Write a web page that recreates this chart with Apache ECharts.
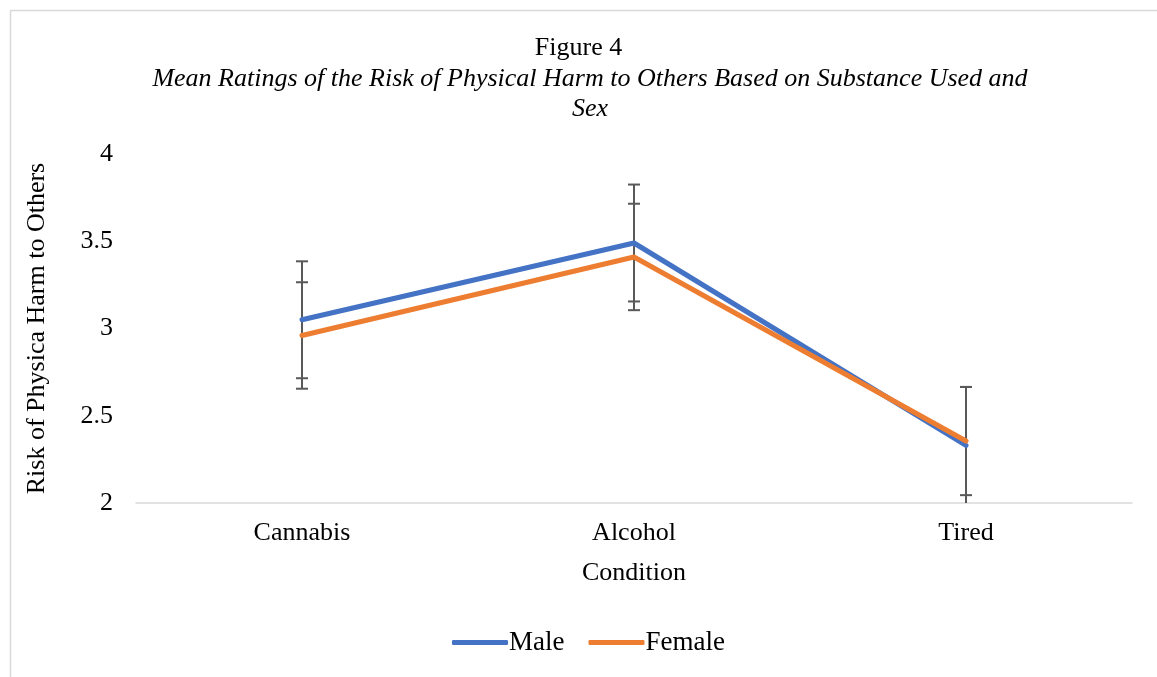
<!DOCTYPE html>
<html>
<head>
<meta charset="utf-8">
<script src="https://cdn.jsdelivr.net/npm/echarts@6/dist/echarts.min.js"></script>
<style>
  html, body { margin: 0; padding: 0; background: #fff; }
  #chart { width: 1157px; height: 677px; }
</style>
</head>
<body>
<div id="chart"></div>
<script>
// Mean ratings by condition and sex, with error bar half-widths
const categories = ['Cannabis', 'Alcohol', 'Tired'];
const maleMeans = [3.05, 3.49, 2.33];
const femaleMeans = [2.96, 3.41, 2.355];
const maleErr = [0.335, 0.335, 0.335];
const femaleErr = [0.305, 0.305, 0.31];
const yTicks = [2, 2.5, 3, 3.5, 4];

const FONT = '"Liberation Serif", "Times New Roman", serif';
const FS = 26;
const BLUE = '#4472C4';
const ORANGE = '#ED7D31';
const BAR = '#595959';

function errData(means, errs) {
  return means.map((m, i) => [i, m - errs[i], m + errs[i]]);
}

// Vertical error bar with end caps, clipped to the plotting area
function renderErr(params, api) {
  const i = api.value(0);
  const lo = api.coord([i, api.value(1)]);
  const hi = api.coord([i, api.value(2)]);
  const cs = params.coordSys;
  const top = cs.y, bottom = cs.y + cs.height;
  const x = lo[0];
  const capW = 6;
  const y1 = Math.max(hi[1], top), y2 = Math.min(lo[1], bottom);
  const style = { stroke: BAR, lineWidth: 2 };
  const children = [{ type: 'line', shape: { x1: x, y1: y1, x2: x, y2: y2 }, style: style }];
  if (hi[1] >= top) children.push({ type: 'line', shape: { x1: x - capW, y1: hi[1], x2: x + capW, y2: hi[1] }, style: style });
  if (lo[1] <= bottom) children.push({ type: 'line', shape: { x1: x - capW, y1: lo[1], x2: x + capW, y2: lo[1] }, style: style });
  return { type: 'group', children: children };
}

const chart = echarts.init(document.getElementById('chart'), null, { renderer: 'canvas' });
chart.setOption({
  animation: false,
  backgroundColor: '#fff',
  textStyle: { fontFamily: FONT, color: '#000' },
  graphic: [{
    type: 'rect', left: 8, top: 8, z: -10,
    shape: { width: 1200, height: 700 },
    style: { fill: 'none', stroke: '#d9d9d9', lineWidth: 1.5 }
  }],
  title: [{
    text: 'Figure 4',
    left: 'center', top: 30,
    textStyle: { fontFamily: FONT, fontSize: FS, fontWeight: 'normal', color: '#000' }
  }, {
    text: 'Mean Ratings of the Risk of Physical Harm to Others Based on Substance Used and\nSex',
    left: 585, top: 59, textAlign: 'center',
    textStyle: { fontFamily: FONT, fontSize: FS, fontStyle: 'italic', fontWeight: 'normal', color: '#000', lineHeight: 30 }
  }],
  legend: {
    bottom: 16, left: 447,
    itemWidth: 56, itemHeight: 5, itemGap: 24,
    icon: 'roundRect',
    textStyle: { fontFamily: FONT, fontSize: 27, color: '#000', padding: [0, 0, 0, -4] },
    data: ['Male', 'Female']
  },
  grid: { left: 136, right: 25, top: 154, bottom: 174, containLabel: false },
  xAxis: {
    type: 'category', data: categories,
    name: 'Condition', nameLocation: 'middle', nameGap: 57,
    nameTextStyle: { fontFamily: FONT, fontSize: FS, color: '#000' },
    axisLine: { lineStyle: { color: '#d9d9d9', width: 1.5 } },
    axisTick: { show: false },
    axisLabel: { fontFamily: FONT, fontSize: FS, color: '#000', margin: 17 }
  },
  yAxis: {
    type: 'value', min: yTicks[0], max: yTicks[yTicks.length - 1], interval: 0.5,
    name: 'Risk of Physica Harm to Others', nameLocation: 'middle', nameGap: 86,
    nameTextStyle: { fontFamily: FONT, fontSize: FS, color: '#000' },
    axisLine: { show: false },
    axisTick: { show: false },
    splitLine: { show: false },
    axisLabel: { fontFamily: FONT, fontSize: FS, color: '#000', margin: 23 }
  },
  series: [{
    name: 'Male err', type: 'custom', renderItem: renderErr,
    data: errData(maleMeans, maleErr), z: 1, silent: true,
    encode: { x: 0, y: [1, 2] }
  }, {
    name: 'Female err', type: 'custom', renderItem: renderErr,
    data: errData(femaleMeans, femaleErr), z: 1, silent: true,
    encode: { x: 0, y: [1, 2] }
  }, {
    name: 'Male', type: 'line', data: maleMeans, z: 3,
    symbol: 'none', color: BLUE,
    lineStyle: { color: BLUE, width: 5, cap: 'round', join: 'round' }
  }, {
    name: 'Female', type: 'line', data: femaleMeans, z: 4,
    symbol: 'none', color: ORANGE,
    lineStyle: { color: ORANGE, width: 5, cap: 'round', join: 'round' }
  }]
});
</script>
</body>
</html>
